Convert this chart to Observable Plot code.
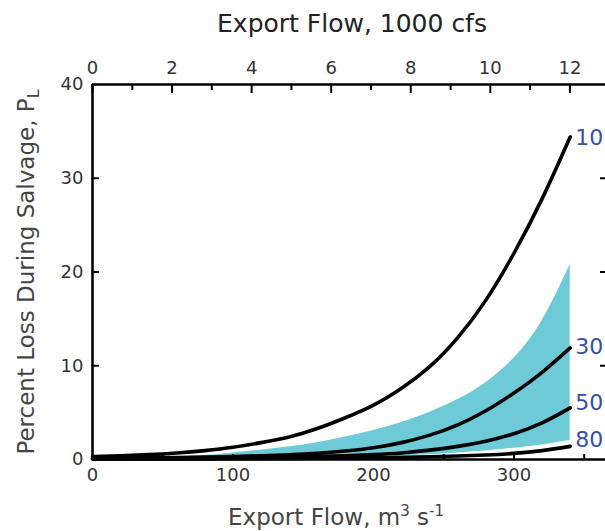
<!DOCTYPE html>
<html>
<head>
<meta charset="utf-8">
<script src="https://cdn.jsdelivr.net/npm/d3@7"></script>
<script src="https://cdn.jsdelivr.net/npm/@observablehq/plot@0.6"></script>
<style>
  body { margin: 0; background: #fff; }
</style>
</head>
<body>
<div id="chart"></div>
<script>
// export flow, m3/s
const flow = [0, 20, 40, 60, 80, 100, 120, 140, 160, 180, 200, 220, 240, 260, 280, 300, 320, 340];

// percent loss during salvage, one array per curve
const loss10 = [0.3, 0.4, 0.52, 0.7, 0.95, 1.3, 1.8, 2.4, 3.3, 4.45, 5.8, 7.6, 9.9, 13.0, 17.0, 22.0, 27.8, 34.4];
const loss30 = [0.12, 0.14, 0.17, 0.2, 0.25, 0.32, 0.4, 0.5, 0.65, 0.9, 1.25, 1.8, 2.6, 3.7, 5.2, 7.1, 9.3, 11.9];
const loss50 = [0.08, 0.09, 0.1, 0.12, 0.14, 0.17, 0.21, 0.26, 0.32, 0.4, 0.52, 0.7, 1.0, 1.4, 1.95, 2.75, 3.9, 5.5];
const loss80 = [0.05, 0.05, 0.06, 0.06, 0.07, 0.08, 0.09, 0.11, 0.13, 0.16, 0.19, 0.23, 0.29, 0.37, 0.48, 0.65, 0.95, 1.4];

// shaded range
const bandLow = [0.02, 0.03, 0.04, 0.05, 0.06, 0.08, 0.1, 0.13, 0.17, 0.22, 0.3, 0.4, 0.52, 0.7, 0.92, 1.2, 1.55, 2.05];
const bandHigh = [0.1, 0.14, 0.2, 0.28, 0.42, 0.7, 1.0, 1.35, 1.8, 2.4, 3.1, 3.95, 5.05, 6.4, 8.2, 10.8, 14.8, 20.8];

const curveNames = ["10", "30", "50", "80"];
const curveLabelY = [34.3, 12.0, 6.0, 2.1];

const yTicks = [0, 10, 20, 30, 40];
const bottomTicks = [0, 100, 200, 300];
const bottomMinor = [50, 100, 150, 200, 250, 300, 350];
const topTicks = [0, 2, 4, 6, 8, 10, 12];
const topMinor = [1, 3, 5, 7, 9, 11];
const M3_PER_KCFS = 28.3168;

const series = [loss10, loss30, loss50, loss80];
const rows = curveNames.flatMap((name, i) => flow.map((f, j) => ({flow: f, loss: series[i][j], curve: name})));
const band = flow.map((f, j) => ({flow: f, low: bandLow[j], high: bandHigh[j]}));
const labels = curveNames.map((name, i) => ({name, flow: flow[flow.length - 1], loss: curveLabelY[i]}));

const noText = () => "";

const chart = Plot.plot({
  width: 605,
  height: 531,
  marginTop: 84,
  marginBottom: 72,
  marginLeft: 92,
  marginRight: 0,
  x: {domain: [0, 368], range: [92, 609]},
  y: {domain: [0, 40], range: [459, 84]},
  style: {fontFamily: "'DejaVu Sans', sans-serif", color: "#333", background: "#fff", overflow: "visible"},
  marks: [
    Plot.areaY(band, {x: "flow", y1: "low", y2: "high", fill: "#6fcad8", curve: "natural"}),
    Plot.line(rows, {x: "flow", y: "loss", z: "curve", stroke: "#000", strokeWidth: 3.6, curve: "natural"}),

    // frame
    Plot.ruleX([0, 368], {stroke: "#000", strokeWidth: 2.6}),
    Plot.ruleY([0, 40], {stroke: "#000", strokeWidth: 2.6}),

    // left axis
    Plot.axisY(yTicks, {anchor: "left", tickSize: 0, tickPadding: 9, fontSize: 18, label: null}),
    Plot.axisY([10, 20, 30], {anchor: "left", tickSize: -7, tickFormat: noText, label: null, stroke: "#000", strokeWidth: 2}),
    Plot.axisY([10, 20, 30], {anchor: "right", tickSize: -6, tickFormat: noText, label: null, stroke: "#000", strokeWidth: 2}),

    // bottom axis, m3/s
    Plot.axisX(bottomTicks, {anchor: "bottom", tickSize: 0, tickPadding: 9, fontSize: 18, label: null}),
    Plot.axisX(bottomMinor, {anchor: "bottom", tickSize: -5, tickFormat: noText, label: null, stroke: "#000", strokeWidth: 2}),

    // top axis, 1000 cfs
    Plot.axisX(topTicks.map(k => k * M3_PER_KCFS), {anchor: "top", tickSize: 0, tickPadding: 11, fontSize: 18, label: null, tickFormat: d => Math.round(d / M3_PER_KCFS)}),
    Plot.axisX(topTicks.map(k => k * M3_PER_KCFS), {anchor: "top", tickSize: -8, tickFormat: noText, label: null, stroke: "#000", strokeWidth: 2}),
    Plot.axisX(topMinor.map(k => k * M3_PER_KCFS), {anchor: "top", tickSize: -5, tickFormat: noText, label: null, stroke: "#000", strokeWidth: 2}),

    // curve labels
    Plot.text(labels, {x: "flow", y: "loss", text: "name", textAnchor: "start", dx: 5, fill: "#3a4ea6", fontSize: 22}),

    // titles
    Plot.text(["Export Flow, 1000 cfs"], {frameAnchor: "top", lineAnchor: "middle", dx: 3, dy: -61, fontSize: 25, fill: "#222"}),
    Plot.text(["Export Flow, m"], {frameAnchor: "bottom", lineAnchor: "middle", dx: -13, dy: 58, fontSize: 23, fill: "#444"}),
    Plot.text(["Percent Loss During Salvage, P"], {frameAnchor: "left", textAnchor: "middle", lineAnchor: "middle", rotate: -90, dx: -66, fontSize: 23, fill: "#444"})
  ]
});

// superscripts and subscript in the axis titles
const svg = d3.select(chart);
svg.selectAll("text").filter(function() { return this.textContent === "Export Flow, m"; })
  .each(function() {
    const t = d3.select(this);
    t.append("tspan").attr("font-size", 15).attr("dy", -9).text("3");
    t.append("tspan").attr("font-size", 23).attr("dy", 9).text(" s");
    t.append("tspan").attr("font-size", 15).attr("dy", -9).text("-1");
  });
svg.selectAll("text").filter(function() { return this.textContent === "Percent Loss During Salvage, P"; })
  .each(function() {
    d3.select(this).append("tspan").attr("font-size", 16).attr("dy", 5).text("L");
  });

d3.select("#chart").append(() => chart);
</script>
</body>
</html>
